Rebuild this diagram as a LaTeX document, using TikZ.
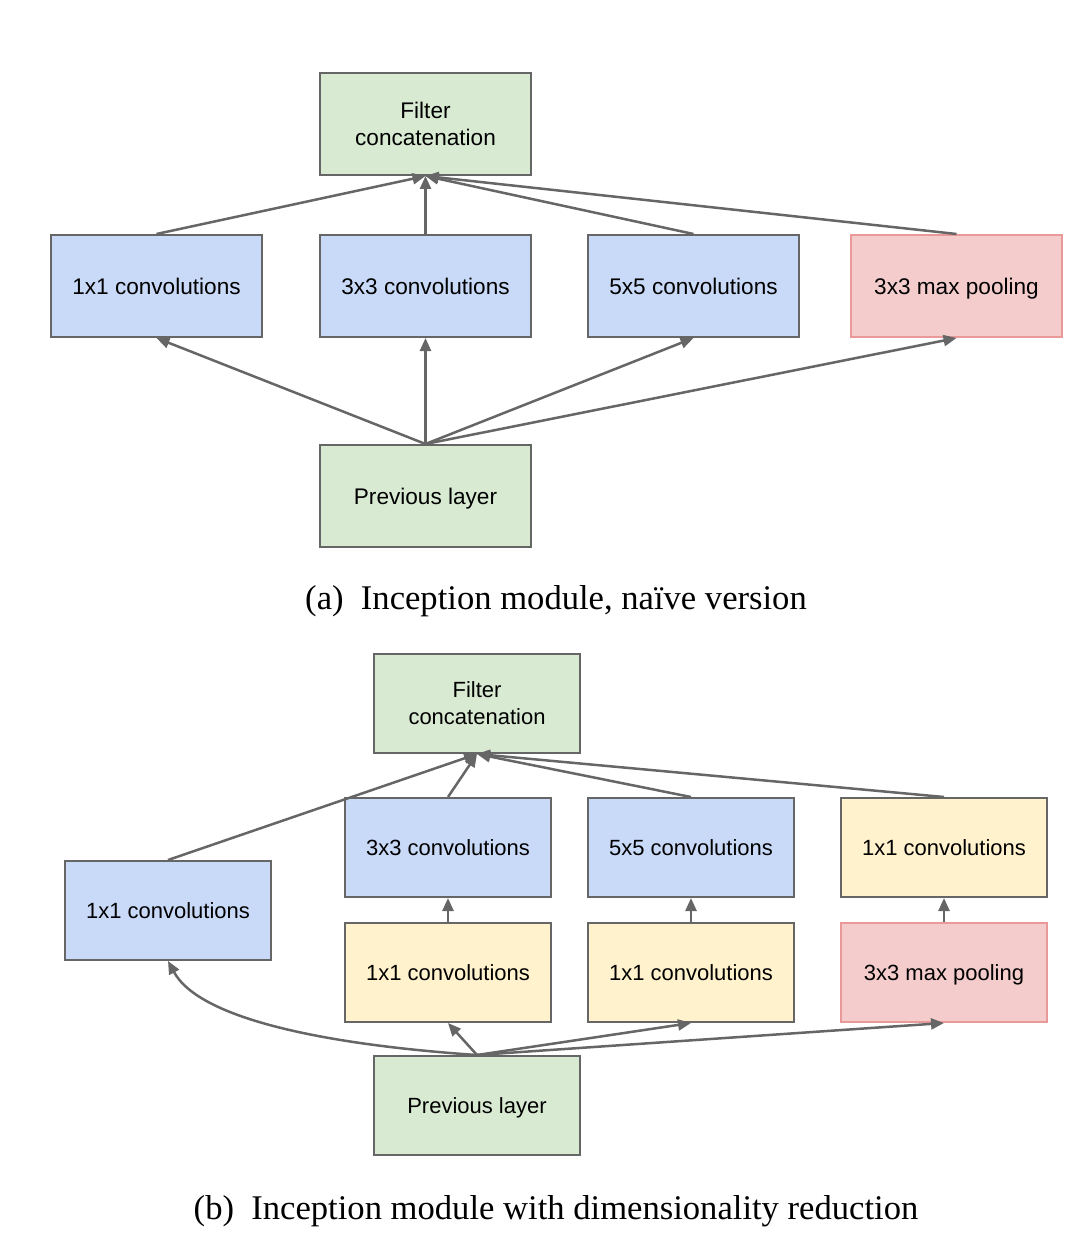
\documentclass[tikz,border=0pt]{standalone}
\usepackage{fontspec}
\setmainfont{Liberation Sans}
\newfontfamily\captionserif{Liberation Serif}
\usetikzlibrary{arrows.meta,positioning}
\definecolor{concatgreen}{HTML}{D9EAD3}
\definecolor{convblue}{HTML}{C9DAF8}
\definecolor{reduceyellow}{HTML}{FFF2CC}
\definecolor{poolred}{HTML}{F4CCCC}
\definecolor{poolborder}{HTML}{EA9999}
\definecolor{linegray}{HTML}{666666}

\begin{document}
\begin{tikzpicture}[x=0.5pt, y=-0.5pt,
    flow/.style={draw=linegray, line width=1.25pt, -{Triangle[length=6.5pt, width=5.5pt]}},
    caption/.style={anchor=base, font=\captionserif\fontsize{17.3}{20}\selectfont}]
  \useasboundingbox (0,0) rectangle (1073,1235);
  % (a) naive version
  \begin{scope}[every node/.style={rectangle, draw=linegray, line width=1.2pt,
      minimum width=105.3pt, minimum height=50.8pt, align=center, text depth=0pt,
      font=\fontsize{11.3}{13.8}\selectfont}]
    \node[fill=concatgreen] (FA) at (425.5,124) {Filter\\concatenation};
    \node[fill=convblue] (A2) [below=29pt of FA] {3x3 convolutions};
    \node[fill=convblue] (A1) [left=28pt of A2] {1x1 convolutions};
    \node[fill=convblue] (A3) [right=27.5pt of A2] {5x5 convolutions};
    \node[fill=poolred, draw=poolborder] (A4) [right=25pt of A3] {3x3 max pooling};
    \node[fill=concatgreen] (PA) [below=53pt of A2] {Previous layer};
  \end{scope}
  \begin{scope}[every edge/.style={flow}]
    \path (A1.north) edge (FA.south);
    \path (A2.north) edge (FA.south);
    \path (A3.north) edge (FA.south);
    \path (A4.north) edge (FA.south);
    \path (PA.north) edge (A1.south);
    \path (PA.north) edge (A2.south);
    \path (PA.north) edge (A3.south);
    \path (PA.north) edge (A4.south);
  \end{scope}
  \node[caption] (CA) at (556,609) {(a)\hspace{0.5em}Inception module, naïve version};
  % (b) with dimensionality reduction
  \begin{scope}[every node/.style={rectangle, draw=linegray, line width=1.2pt,
      minimum width=102.8pt, minimum height=49.3pt, align=center, text depth=0pt,
      font=\fontsize{11}{13.5}\selectfont}]
    \node[fill=concatgreen] (FB) at (477,703.5) {Filter\\concatenation};
    \node[fill=convblue] (B2) [below=21.5pt of FB, xshift=-14.5pt] {3x3 convolutions};
    \node[fill=convblue] (B3) [right=17.5pt of B2] {5x5 convolutions};
    \node[fill=reduceyellow] (B4) [right=22.5pt of B3] {1x1 convolutions};
    \node[fill=convblue] (B1) [left=36pt of B2, yshift=-31.5pt] {1x1 convolutions};
    \node[fill=reduceyellow] (C2) [below=12pt of B2] {1x1 convolutions};
    \node[fill=reduceyellow] (C3) [below=12pt of B3] {1x1 convolutions};
    \node[fill=poolred, draw=poolborder] (C4) [below=12pt of B4] {3x3 max pooling};
    \node[fill=concatgreen] (PB) at (477,1105.5) {Previous layer};
  \end{scope}
  \begin{scope}[every edge/.style={flow}]
    \path (B1.north) edge (FB.south);
    \path (B2.north) edge (FB.south);
    \path (B3.north) edge (FB.south);
    \path (B4.north) edge (FB.south);
    \path (C2.north) edge (B2.south);
    \path (C3.north) edge (B3.south);
    \path (C4.north) edge (B4.south);
    \path (PB.north) edge (C2.south);
    \path (PB.north) edge (C3.south);
    \path (PB.north) edge (C4.south);
  \end{scope}
  \draw[flow] (PB.north) .. controls (330,1045) and (200,1020) .. (B1.south);
  \node[caption] (CB) at (556,1219) {(b)\hspace{0.5em}Inception module with dimensionality reduction};
\end{tikzpicture}
\end{document}
